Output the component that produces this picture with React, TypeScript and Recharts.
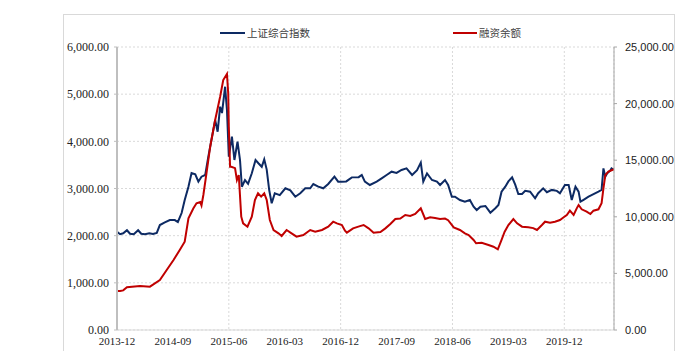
import { LineChart, Line, XAxis, YAxis, CartesianGrid } from 'recharts';

// month offsets from 2013-12
const sseMonths = [
  0, 0.5, 1.0, 1.6, 2.1, 2.7, 3.4, 3.9, 4.5, 5.2, 5.8, 6.4, 6.9, 7.7, 8.5, 9.3, 9.8, 10.4, 10.9, 11.5,
  12.0, 12.6, 13.1, 13.6, 14.2, 14.7, 15.2, 15.8, 16.2, 16.6, 16.9, 17.4, 17.7, 18.0, 18.5, 18.9, 19.4, 19.8,
  20.1, 20.6, 21.1, 21.7, 22.3, 22.8, 23.3, 23.7, 24.1, 24.5, 24.9, 25.4, 26.2, 27.1, 27.9, 28.7, 29.5,
  30.3, 31.1, 31.6, 32.4, 33.2, 34.0, 35.0, 35.6, 36.2, 36.9, 37.8, 38.9, 39.4, 39.9, 40.7, 41.8, 42.6,
  43.4, 44.2, 45.0, 45.8, 46.6, 47.5, 48.3, 48.9, 49.3, 49.9, 50.7, 51.5, 52.0, 52.8, 53.3, 53.9, 54.4,
  55.2, 56.0, 56.8, 57.4, 57.9, 58.5, 59.3, 60.1, 60.9, 61.4, 61.9, 62.5, 63.0, 63.6, 64.1, 64.6, 65.2,
  65.7, 66.5, 67.3, 67.8, 68.6, 69.2, 70.0, 70.8, 71.3, 72.1, 72.7, 73.2, 73.8, 74.3, 74.6, 75.1, 75.9,
  76.7, 77.5, 78.0, 78.3, 78.6, 78.9, 79.4, 79.6, 79.9,
];
const sseValues = [
  2085, 2030, 2050, 2115, 2040, 2030, 2115, 2040, 2030, 2050, 2035, 2060, 2226, 2280, 2330, 2330, 2290, 2480, 2756, 3038,
  3328, 3300, 3145, 3250, 3286, 3674, 4028, 4452, 4204, 4734, 4600, 5158, 4664, 3674, 4098, 3604, 3992, 3600,
  3038, 3180, 3100, 3322, 3604, 3530, 3460, 3618, 3400, 2968, 2686, 2898, 2860, 3004, 2960, 2826, 2900,
  3004, 3004, 3095, 3040, 3004, 3095, 3250, 3145, 3145, 3150, 3236, 3240, 3286, 3145, 3074, 3145, 3215,
  3286, 3357, 3330, 3392, 3427, 3286, 3390, 3548, 3145, 3320, 3180, 3145, 3074, 3180, 3074, 2826, 2826,
  2756, 2720, 2756, 2615, 2544, 2615, 2630, 2487, 2580, 2650, 2933, 3038, 3150, 3236, 3080, 2883, 2883,
  2950, 2933, 2792, 2900, 3004, 2920, 2970, 2950, 2898, 3074, 3074, 2756, 3038, 2933, 2720, 2760, 2826,
  2880, 2933, 2970, 3427, 3250, 3322, 3380, 3427, 3400,
];

const marginMonths = [
  0, 0.5, 1.0, 1.6, 3.7, 5.3, 6.9, 8.0, 9.1, 10.1, 10.9, 11.5, 12.3, 12.8, 13.4, 13.6, 13.9, 14.4, 15.0,
  15.8, 16.6, 17.1, 17.7, 17.9, 18.0, 18.2, 18.4, 19.0, 19.3, 19.6, 20.0, 20.3, 21.0, 21.7, 22.2, 22.7,
  23.2, 23.7, 24.1, 24.6, 25.2, 26.0, 26.5, 27.3, 28.1, 28.9, 30.0, 31.1, 31.9, 33.0, 34.0, 34.8, 35.4,
  36.2, 36.7, 37.0, 38.0, 39.1, 39.7, 40.5, 41.3, 42.4, 43.2, 44.0, 44.8, 45.6, 46.4, 47.2, 48.0, 48.9,
  49.6, 50.4, 51.2, 52.0, 52.8, 53.3, 54.2, 55.2, 56.0, 56.6, 57.4, 57.8, 58.7, 59.8, 60.6, 61.3, 61.9,
  62.4, 63.0, 63.8, 64.4, 65.2, 66.2, 67.0, 67.6, 68.4, 68.9, 69.7, 70.5, 71.3, 71.9, 72.4, 72.9, 73.5,
  74.0, 74.3, 74.8, 75.6, 76.2, 76.7, 77.5, 78.0, 78.3, 78.6, 79.1, 79.7, 80.0,
];
const marginValues = [
  3445, 3450, 3500, 3770, 3887, 3830, 4417, 5300, 6184, 7067, 7800, 9867, 10750, 11192, 11300, 11000, 11926, 13843, 16193,
  18551, 20610, 22085, 22615, 20910, 17960, 14426, 14426, 14300, 13251, 13693, 10009, 9426, 9126, 10009, 11484, 12076,
  11780, 12076, 11484, 9717, 8834, 8540, 8304, 8834, 8540, 8242, 8392, 8834, 8687, 8834, 9126, 9567, 9420,
  9276, 8773, 8596, 8980, 9180, 9276, 8980, 8596, 8660, 8980, 9364, 9806, 9850, 10159, 10070, 10247, 10748,
  9806, 9950, 9900, 9806, 9850, 9700, 9069, 8834, 8540, 8392, 7951, 7657, 7700, 7509, 7360, 7127, 7951,
  8684, 9276, 9806, 9420, 9126, 9069, 9000, 8834, 9276, 9567, 9480, 9567, 9717, 9956, 10159, 10539, 10159,
  10748, 11043, 10660, 10450, 10247, 10540, 10660, 11192, 12518, 13693, 13987, 14134, 14200,
];

const tickMonths = [0, 9, 18, 27, 36, 45, 54, 63, 72];
const tickLabels = ['2013-12', '2014-09', '2015-06', '2016-03', '2016-12', '2017-09', '2018-06', '2019-03', '2019-12'];
const leftTicks = [0, 1000, 2000, 3000, 4000, 5000, 6000];
const rightTicks = [0, 5000, 10000, 15000, 20000, 25000];

const sseData = sseMonths.map((t, i) => ({ t, v: sseValues[i] }));
const marginData = marginMonths.map((t, i) => ({ t, v: marginValues[i] }));

const fmt = (v: number) => v.toLocaleString('en-US', { minimumFractionDigits: 2, maximumFractionDigits: 2 });

const BLUE = '#0d2a63';
const RED = '#c00000';

export default function App() {
  return (
    <div style={{ position: 'fixed', left: 0, top: 0, width: 694, height: 351, overflow: 'hidden', background: '#fff' }}>
      <div
        style={{
          position: 'absolute', left: 63, top: 14, width: 612, height: 345,
          border: '1px solid #d9d9d9', boxSizing: 'border-box',
        }}
      />
      <div style={{ position: 'absolute', left: 220, top: 32, width: 25, height: 2, background: BLUE }} />
      <div style={{ position: 'absolute', left: 247, top: 25, fontFamily: '"Noto Sans CJK SC"', fontSize: 10.5, lineHeight: '16px', color: '#404040' }}>
        上证综合指数
      </div>
      <div style={{ position: 'absolute', left: 453, top: 32, width: 24, height: 2, background: RED }} />
      <div style={{ position: 'absolute', left: 479, top: 25, fontFamily: '"Noto Sans CJK SC"', fontSize: 10.5, lineHeight: '16px', color: '#404040' }}>
        融资余额
      </div>
      <LineChart width={694} height={351} margin={{ top: 47, right: 0, bottom: 0, left: 0 }} style={{ position: 'absolute', left: 0, top: 0 }}>
        <CartesianGrid yAxisId="left" stroke="#d9d9d9" strokeDasharray="2 2" />
        <XAxis
          dataKey="t"
          type="number"
          domain={[0, 80]}
          ticks={tickMonths}
          tickFormatter={(v: number) => tickLabels[tickMonths.indexOf(v)] ?? ''}
          height={21}
          tickSize={4}
          tickMargin={3}
          tickLine={false}
          axisLine={{ stroke: '#d9d9d9' }}
          tick={{ fill: '#222', fontSize: 11, fontFamily: '"Liberation Serif"' }}
          allowDuplicatedCategory={false}
        />
        <YAxis
          yAxisId="left"
          orientation="left"
          width={117}
          domain={[0, 6000]}
          ticks={leftTicks}
          tickFormatter={fmt}
          tickSize={3}
          tickMargin={5}
          axisLine={{ stroke: '#bfbfbf', strokeWidth: 2 }}
          tickLine={{ stroke: '#bfbfbf' }}
          tick={{ fill: '#222', fontSize: 12, fontFamily: '"Liberation Serif"' }}
        />
        <YAxis
          yAxisId="right"
          orientation="right"
          width={80}
          domain={[0, 25000]}
          ticks={rightTicks}
          tickFormatter={fmt}
          tickSize={3}
          tickMargin={8}
          axisLine={{ stroke: '#a6a6a6' }}
          tickLine={{ stroke: '#a6a6a6' }}
          tick={{ fill: '#222', fontSize: 11, fontFamily: '"Liberation Sans"', textAnchor: 'start' }}
        />
        <Line
          data={sseData}
          dataKey="v"
          yAxisId="left"
          type="linear"
          stroke={BLUE}
          strokeWidth={2}
          dot={false}
          isAnimationActive={false}
        />
        <Line
          data={marginData}
          dataKey="v"
          yAxisId="right"
          type="linear"
          stroke={RED}
          strokeWidth={2}
          dot={false}
          isAnimationActive={false}
        />
      </LineChart>
    </div>
  );
}
